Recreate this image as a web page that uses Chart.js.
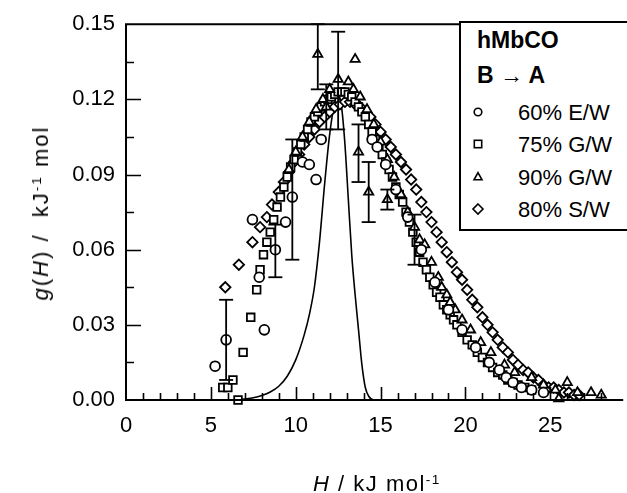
<!DOCTYPE html>
<html>
<head>
<meta charset="utf-8">
<title>g(H) hMbCO B to A</title>
<script src="https://cdn.jsdelivr.net/npm/chart.js@4.4.0/dist/chart.umd.min.js"></script>
<style>
html, body { margin:0; padding:0; background:#fff; overflow:hidden; }
#wrap { position:relative; width:627px; height:493px; font-family:'Liberation Sans', Arial, sans-serif; color:#000; overflow:hidden; }
#chart { position:absolute; left:0; top:0; }
.lab { position:absolute; white-space:nowrap; font-size:22px; line-height:22px; }
.b { font-weight:bold; font-size:23px; line-height:23px; }
.lab sup { font-size:0.62em; line-height:0; vertical-align:0.5em; }
#legendBox { position:absolute; left:459px; top:21px; width:200px; height:210px; border:2px solid #000; border-right:none; box-sizing:border-box; background:#fff; }
.mk { position:absolute; }
</style>
</head>
<body>
<div id="wrap">
  <canvas id="chart" width="627" height="493"></canvas>
  <div id="legendBox"></div>
  <div class="lab b" style="left:477px;top:29px;">hMbCO</div>
  <div class="lab b" style="left:477px;top:64px;">B &rarr; A</div>
  <div id="legendItems"></div>
  <div class="lab" id="ytitle" style="left:41px;top:213px;letter-spacing:2px;transform:translate(-50%,-50%) rotate(-90deg);"><i>g</i>(<i>H</i>)&nbsp;/&nbsp; kJ<sup>-1</sup>&nbsp;mol</div>
  <div class="lab" id="xtitle" style="left:377px;top:473px;letter-spacing:1.5px;transform:translateX(-50%);"><i>H</i>&nbsp;/ kJ mol<sup>-1</sup></div>
</div>
<script>
// fitted distribution (solid line)
var curveH = [6.5, 7.0, 7.5, 8.0, 8.5, 9.0, 9.5, 10.0, 10.5, 10.8, 11.1, 11.4, 11.7, 12.0, 12.3, 12.5, 12.7, 12.9, 13.1, 13.3, 13.5, 13.7, 13.9, 14.1, 14.3, 14.6, 15.0];
var curveG = [0.0, 0.0004, 0.0009, 0.0018, 0.0032, 0.0055, 0.0095, 0.016, 0.026, 0.034, 0.045, 0.063, 0.086, 0.106, 0.119, 0.122, 0.117, 0.102, 0.080, 0.058, 0.042, 0.028, 0.014, 0.005, 0.0015, 0.0, 0.0];

// 60% E/W (circles)
var ewH = [5.25, 5.9, 7.45, 7.85, 8.15, 8.8, 9.4, 9.8, 10.4, 10.8, 11.2, 11.5, 14.5, 14.8, 15.3, 15.9, 16.6, 17.4, 18.2, 19.0, 19.8, 20.6, 21.4, 22.0, 22.4, 22.8, 23.3, 23.9, 24.6];
var ewG = [0.0135, 0.024, 0.072, 0.049, 0.028, 0.060, 0.071, 0.081, 0.095, 0.094, 0.088, 0.104, 0.104, 0.101, 0.094, 0.084, 0.073, 0.060, 0.047, 0.036, 0.028, 0.021, 0.015, 0.012, 0.009, 0.007, 0.005, 0.004, 0.003];

// 75% G/W (squares)
var gw75H = [5.7, 6.0, 6.3, 6.6, 6.9, 7.35, 7.7, 7.9, 8.1, 8.3, 8.5, 8.7, 8.9, 9.1, 9.3, 9.5, 9.7, 9.9, 10.1, 10.3, 10.5, 10.7, 10.9, 11.1, 11.3, 11.5, 11.7, 11.9, 12.1, 12.3, 12.5, 12.7, 12.9, 13.1, 13.3, 13.5, 13.7, 13.9, 14.1, 14.3, 14.5, 14.7, 14.9, 15.1, 15.3, 15.5, 15.7, 15.9, 16.1, 16.3, 16.5, 16.7, 16.9, 17.1, 17.3, 17.5, 17.7, 17.9, 18.1, 18.3, 18.5, 18.7, 18.9, 19.1, 19.3, 19.5, 19.8, 20.1, 20.4, 20.7, 21.0, 21.3, 21.6, 21.9, 22.2, 22.5, 22.8, 23.1, 23.5, 23.9];
var gw75G = [0.005, 0.005, 0.008, 0.0, 0.019, 0.033, 0.044, 0.052, 0.058, 0.063, 0.067, 0.072, 0.077, 0.081, 0.085, 0.089, 0.093, 0.096, 0.099, 0.102, 0.105, 0.108, 0.111, 0.113, 0.115, 0.117, 0.119, 0.120, 0.121, 0.122, 0.123, 0.123, 0.123, 0.122, 0.121, 0.119, 0.117, 0.115, 0.113, 0.110, 0.107, 0.104, 0.101, 0.098, 0.095, 0.092, 0.089, 0.085, 0.082, 0.079, 0.075, 0.071, 0.067, 0.063, 0.059, 0.055, 0.052, 0.049, 0.046, 0.043, 0.041, 0.038, 0.036, 0.034, 0.032, 0.030, 0.027, 0.024, 0.022, 0.019, 0.017, 0.015, 0.013, 0.011, 0.010, 0.008, 0.007, 0.006, 0.005, 0.004];

// 90% G/W (triangles)
var gw90H = [9.6, 10.0, 10.4, 10.8, 11.2, 11.3, 11.6, 11.8, 12.0, 12.5, 13.1, 13.5, 13.4, 13.7, 13.8, 14.2, 14.3, 14.6, 15.0, 15.4, 15.4, 15.8, 16.2, 16.6, 17.0, 17.3, 17.6, 18.0, 18.4, 18.6, 18.9, 19.1, 19.4, 19.8, 20.3, 20.9, 21.5, 22.3, 22.9, 23.9, 24.6, 25.3, 25.5, 26.0, 26.6, 27.4, 28.0];
var gw90G = [0.092, 0.099, 0.105, 0.111, 0.116, 0.138, 0.120, 0.117, 0.124, 0.128, 0.127, 0.136, 0.124, 0.099, 0.121, 0.116, 0.083, 0.110, 0.103, 0.080, 0.096, 0.089, 0.082, 0.075, 0.069, 0.064, 0.062, 0.055, 0.049, 0.045, 0.042, 0.039, 0.036, 0.032, 0.028, 0.023, 0.019, 0.014, 0.011, 0.009, 0.006, 0.004, 0.0005, 0.007, 0.003, 0.003, 0.002];

// 80% S/W (diamonds)
var sw80H = [5.85, 6.65, 7.45, 7.9, 8.3, 8.6, 9.0, 9.3, 9.6, 9.9, 10.2, 10.5, 10.8, 11.1, 11.4, 11.7, 12.0, 12.3, 12.6, 12.9, 13.2, 13.5, 13.8, 14.1, 14.4, 14.7, 15.0, 15.3, 15.6, 15.9, 16.2, 16.5, 16.8, 17.1, 17.4, 17.7, 18.0, 18.3, 18.6, 18.9, 19.2, 19.5, 19.8, 20.1, 20.4, 20.7, 21.0, 21.3, 21.6, 21.9, 22.2, 22.5, 22.8, 23.1, 23.4, 23.7, 24.0, 24.3, 24.6, 24.9, 25.2, 25.5, 25.8, 26.1, 26.4, 26.7];
var sw80G = [0.045, 0.054, 0.063, 0.069, 0.073, 0.078, 0.083, 0.087, 0.091, 0.095, 0.098, 0.102, 0.105, 0.108, 0.111, 0.113, 0.115, 0.117, 0.118, 0.119, 0.119, 0.118, 0.117, 0.115, 0.113, 0.110, 0.107, 0.104, 0.101, 0.098, 0.095, 0.092, 0.088, 0.084, 0.079, 0.075, 0.071, 0.067, 0.063, 0.059, 0.055, 0.051, 0.048, 0.044, 0.040, 0.037, 0.033, 0.030, 0.027, 0.024, 0.021, 0.019, 0.016, 0.014, 0.012, 0.011, 0.009, 0.008, 0.006, 0.005, 0.005, 0.004, 0.003, 0.003, 0.002, 0.002];

// error bars
var errH  = [5.9, 8.8, 9.8, 11.3, 11.8, 12.5, 13.7, 14.3, 15.4, 17.0];
var errLo = [0.008, 0.049, 0.056, 0.124, 0.108, 0.108, 0.087, 0.071, 0.076, 0.054];
var errHi = [0.040, 0.070, 0.104, 0.150, 0.126, 0.147, 0.110, 0.095, 0.084, 0.074];

var xTicks = [0, 5, 10, 15, 20, 25];
var yTicks = [0, 0.03, 0.06, 0.09, 0.12, 0.15];

var legendLabels = ['60% E/W', '75% G/W', '90% G/W', '80% S/W'];
var legendShapes = ['circle', 'rect', 'triangle', 'rectRot'];

function pts(xs, ys) {
  return xs.map(function(x, i) { return { x: x, y: ys[i] }; });
}

function errSegments() {
  var out = [];
  errH.forEach(function(h, i) {
    out.push({ x: h, y: errLo[i] });
    out.push({ x: h, y: errHi[i] });
    out.push({ x: h, y: null });
  });
  return out;
}

function errCaps() {
  var out = [];
  errH.forEach(function(h, i) {
    out.push({ x: h, y: errLo[i] });
    out.push({ x: h, y: errHi[i] });
  });
  return out;
}

function markerSet(label, data, style, radius) {
  return {
    type: 'scatter', label: label, data: data, pointStyle: style,
    pointRadius: radius, pointBorderWidth: 1.8, pointBorderColor: '#000',
    pointBackgroundColor: '#fff', borderColor: '#000', backgroundColor: '#fff',
    showLine: false, clip: false
  };
}

var frame = {
  id: 'frame',
  afterDatasetsDraw: function(chart) {
    var ctx = chart.ctx, a = chart.chartArea, xs = chart.scales.x, ys = chart.scales.y;
    ctx.save();
    ctx.strokeStyle = '#000';
    ctx.lineWidth = 1.6;
    ctx.beginPath();
    for (var h = 1; h <= 28; h++) {
      var px = Math.round(xs.getPixelForValue(h)) + 0.5;
      var len = h % 5 === 0 ? 13 : 7;
      ctx.moveTo(px, a.bottom);
      ctx.lineTo(px, a.bottom - len);
    }
    for (var k = 1; k < 10; k++) {
      var py = Math.round(ys.getPixelForValue(k * 0.015)) + 0.5;
      var ylen = k % 2 === 0 ? 15 : 8;
      ctx.moveTo(a.left, py);
      ctx.lineTo(a.left + ylen, py);
    }
    ctx.stroke();
    ctx.lineWidth = 2;
    ctx.beginPath();
    ctx.moveTo(a.right + 5, a.top);
    ctx.lineTo(a.left, a.top);
    ctx.lineTo(a.left, a.bottom);
    ctx.lineTo(a.right + 5, a.bottom);
    ctx.stroke();
    ctx.restore();
  }
};

Chart.defaults.font.family = "'Liberation Sans', Arial, sans-serif";
Chart.defaults.color = '#000';

new Chart(document.getElementById('chart').getContext('2d'), {
  type: 'scatter',
  data: {
    datasets: [
      { type: 'line', label: 'err', data: errSegments(), borderColor: '#000', borderWidth: 1.8, pointRadius: 0, spanGaps: false, fill: false, clip: false },
      { type: 'scatter', label: 'caps', data: errCaps(), pointStyle: 'line', pointRadius: 7, pointBorderWidth: 1.8, pointBorderColor: '#000', borderColor: '#000', clip: false },
      markerSet('60% E/W', pts(ewH, ewG), 'circle', 4.9),
      markerSet('90% G/W', pts(gw90H, gw90G), 'triangle', 5.3),
      markerSet('75% G/W', pts(gw75H, gw75G), 'rect', 5.4),
      markerSet('80% S/W', pts(sw80H, sw80G), 'rectRot', 5.2),
      { type: 'line', label: 'fit', data: pts(curveH, curveG), borderColor: '#000', borderWidth: 1.6, pointRadius: 0, cubicInterpolationMode: 'monotone', fill: false }
    ]
  },
  options: {
    responsive: false,
    animation: false,
    layout: { padding: { top: 21, right: 0, left: 0, bottom: 0 } },
    plugins: { legend: { display: false }, tooltip: { enabled: false } },
    scales: {
      x: {
        type: 'linear', min: 0, max: 29,
        grid: { display: false, drawTicks: false },
        border: { display: false },
        ticks: { stepSize: 5, padding: 13, maxRotation: 0, autoSkip: false, font: { size: 22 } },
        afterBuildTicks: function(s) { s.ticks = xTicks.map(function(v) { return { value: v }; }); },
        afterFit: function(s) { s.height = 93; }
      },
      y: {
        type: 'linear', min: 0, max: 0.15,
        grid: { display: false, drawTicks: false },
        border: { display: false },
        ticks: { padding: 11, font: { size: 22 }, callback: function(v) { return Number(v).toFixed(2); } },
        afterBuildTicks: function(s) { s.ticks = yTicks.map(function(v) { return { value: v }; }); },
        afterFit: function(s) { s.width = 126; }
      }
    }
  },
  plugins: [frame]
});

// legend entries
var svgShapes = {
  circle: '<circle cx="7" cy="7" r="3.8"/>',
  rect: '<rect x="3.3" y="3.3" width="7.4" height="7.4"/>',
  triangle: '<polygon points="7,2.6 11,9.8 3,9.8"/>',
  rectRot: '<polygon points="7,2 12,7 7,12 2,7"/>'
};
var baselines = [120, 152, 185, 217];
var html = '';
legendLabels.forEach(function(lbl, i) {
  var b = baselines[i];
  html += '<svg class="mk" width="14" height="14" style="left:471px;top:' + (b - 15) + 'px;">' +
    '<g fill="#fff" stroke="#000" stroke-width="1.6">' + svgShapes[legendShapes[i]] + '</g></svg>';
  html += '<div class="lab" style="left:518px;top:' + (b - 18.5) + 'px;">' + lbl + '</div>';
});
document.getElementById('legendItems').innerHTML = html;
</script>
</body>
</html>
